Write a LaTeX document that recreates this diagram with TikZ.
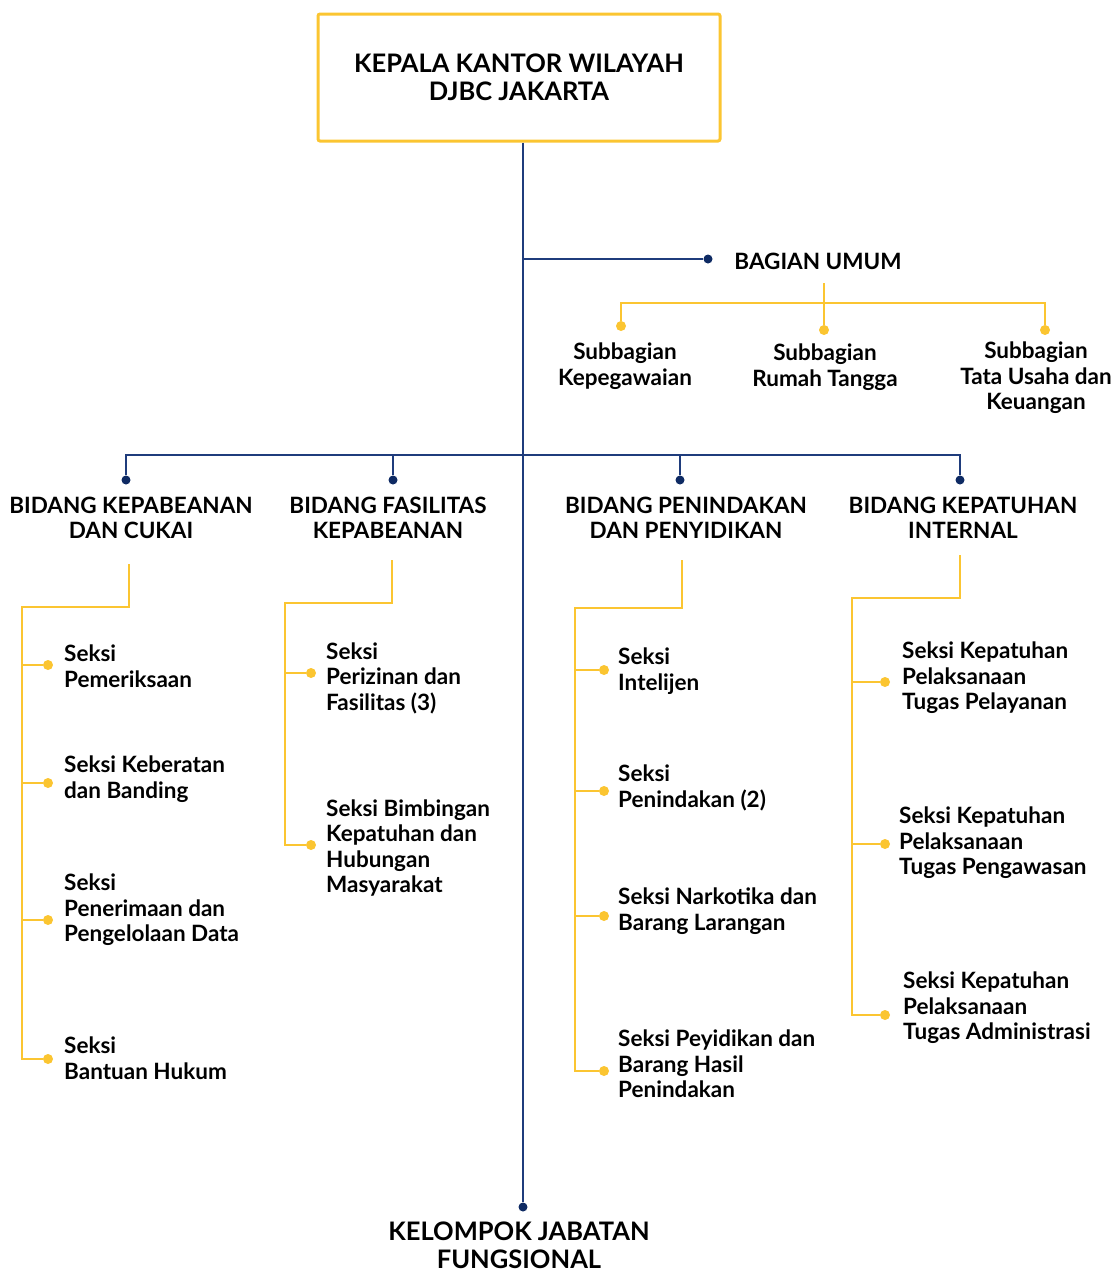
\documentclass[tikz,border=0pt]{standalone}
\usepackage{fontspec}
\setmainfont{Lato}
\usetikzlibrary{positioning}

\definecolor{navy}{HTML}{1F3C7C}
\definecolor{navydot}{HTML}{0E2A63}
\definecolor{gold}{HTML}{FBC531}

\tikzset{
  blueline/.style={draw=navy,line width=2.8pt},
  goldline/.style={draw=gold,line width=2.8pt},
  bdot/.style={circle,fill=navydot,inner sep=0pt,minimum size=9pt},
  ydot/.style={circle,fill=gold,inner sep=0pt,minimum size=10pt},
  bighead/.style={font=\bfseries\fontsize{25.5}{28}\selectfont,align=center,inner sep=0pt},
  head/.style={font=\bfseries\fontsize{22.5}{24.5}\selectfont,align=center,inner sep=0pt},
  unit/.style={font=\bfseries\fontsize{22.5}{25.5}\selectfont,align=left,anchor=west,inner sep=0pt},
  subunit/.style={font=\bfseries\fontsize{22.5}{25.5}\selectfont,align=center,inner sep=0pt},
}

\begin{document}
\begin{tikzpicture}[x=1pt,y=-1pt]

      \useasboundingbox (0,0) rectangle (1116,1277);

      % top box
      \node[bighead,draw=gold,line width=3pt,rounded corners=2pt,
            minimum width=402pt,minimum height=127pt] (kepala) at (519,77.5)
            {KEPALA KANTOR WILAYAH\\DJBC JAKARTA};

      % trunk
      \node[bdot] (dfung) at (523,1207) {};
      \node[bighead,anchor=north] (fungsional) at (519,1222) {KELOMPOK JABATAN\\FUNGSIONAL};
      \draw[blueline] (kepala.south -| dfung) -- (dfung);

      % bagian umum
      \node[bdot] (dumum) at (708,259) {};
      \node[head] (umum) at (818,261) {BAGIAN UMUM};
      \draw[blueline] (dumum -| dfung) -- (dumum);

      \coordinate (ustem) at (824,283);
      \coordinate (ubar)  at (824,303);
      \node[ydot] (dkep) at (621,326) {};
      \node[ydot] (drt)  at (824,330) {};
      \node[ydot] (dtu)  at (1045,330) {};
      \draw[goldline] (ustem) -- (drt);
      \draw[goldline] (dkep) |- (ubar) -| (dtu);

      \node[subunit] (kep) at (625,366) {Subbagian\\Kepegawaian};
      \node[subunit] (rt)  at (825,367) {Subbagian\\Rumah Tangga};
      \node[subunit] (tu)  at (1036,378) {Subbagian\\Tata Usaha dan\\Keuangan};

      % bidang
      \coordinate (bar) at (523,455);
      \node[bdot] (d1) at (126,480) {};
      \node[bdot] (d2) at (393,480) {};
      \node[bdot] (d3) at (680,480) {};
      \node[bdot] (d4) at (960,480) {};
      \draw[blueline] (d1) |- (bar) -| (d4);
      \draw[blueline] (d2) |- (bar);
      \draw[blueline] (d3) |- (bar);

      \node[head] (b1) at (131,518) {BIDANG KEPABEANAN\\DAN CUKAI};
      \node[head] (b2) at (388,518) {BIDANG FASILITAS\\KEPABEANAN};
      \node[head] (b3) at (686,518) {BIDANG PENINDAKAN\\DAN PENYIDIKAN};
      \node[head] (b4) at (963,518) {BIDANG KEPATUHAN\\INTERNAL};

      % bidang kepabeanan dan cukai
      \coordinate (s1) at (129,564);
      \coordinate (h1) at (22,607);
      \node[ydot] (d11) at (48,665)  {};
      \node[ydot] (d12) at (48,783)  {};
      \node[ydot] (d13) at (48,920)  {};
      \node[ydot] (d14) at (48,1059) {};
      \draw[goldline] (s1) |- (h1) -- (h1 |- d14) -- (d14);
      \foreach \d in {d11,d12,d13}
        \draw[goldline] (h1 |- \d) -- (\d);
      \node[unit] (u11) at (64,666)  {Seksi\\Pemeriksaan};
      \node[unit] (u12) at (64,779)  {Seksi Keberatan\\dan Banding};
      \node[unit] (u13) at (64,910)  {Seksi\\Penerimaan dan\\Pengelolaan Data};
      \node[unit] (u14) at (64,1058) {Seksi\\Bantuan Hukum};

      % bidang fasilitas kepabeanan
      \coordinate (s2) at (392,560);
      \coordinate (h2) at (285,603);
      \node[ydot] (d21) at (311,673) {};
      \node[ydot] (d22) at (311,845) {};
      \draw[goldline] (s2) |- (h2) -- (h2 |- d22) -- (d22);
      \draw[goldline] (h2 |- d21) -- (d21);
      \node[unit] (u21) at (326,678) {Seksi\\Perizinan dan\\Fasilitas (3)};
      \node[unit] (u22) at (326,848) {Seksi Bimbingan\\Kepatuhan dan\\Hubungan\\Masyarakat};

      % bidang penindakan dan penyidikan
      \coordinate (s3) at (682,560);
      \coordinate (h3) at (575,608);
      \node[ydot] (d31) at (604,670)  {};
      \node[ydot] (d32) at (604,791)  {};
      \node[ydot] (d33) at (604,916)  {};
      \node[ydot] (d34) at (604,1071) {};
      \draw[goldline] (s3) |- (h3) -- (h3 |- d34) -- (d34);
      \foreach \d in {d31,d32,d33}
        \draw[goldline] (h3 |- \d) -- (\d);
      \node[unit] (u31) at (618,671)  {Seksi\\Intelijen};
      \node[unit] (u32) at (618,788)  {Seksi\\Penindakan (2)};
      \node[unit] (u33) at (618,911)  {Seksi Narkotika dan\\Barang Larangan};
      \node[unit] (u34) at (618,1064) {Seksi Peyidikan dan\\Barang Hasil\\Penindakan};

      % bidang kepatuhan internal
      \coordinate (s4) at (960,555);
      \coordinate (h4) at (852,598);
      \node[ydot] (d41) at (885,682)  {};
      \node[ydot] (d42) at (885,844)  {};
      \node[ydot] (d43) at (885,1015) {};
      \draw[goldline] (s4) |- (h4) -- (h4 |- d43) -- (d43);
      \foreach \d in {d41,d42}
        \draw[goldline] (h4 |- \d) -- (\d);
      \node[unit] (u41) at (902,678)  {Seksi Kepatuhan\\Pelaksanaan\\Tugas Pelayanan};
      \node[unit] (u42) at (899,843)  {Seksi Kepatuhan\\Pelaksanaan\\Tugas Pengawasan};
      \node[unit] (u43) at (903,1008) {Seksi Kepatuhan\\Pelaksanaan\\Tugas Administrasi};

\end{tikzpicture}
\end{document}
